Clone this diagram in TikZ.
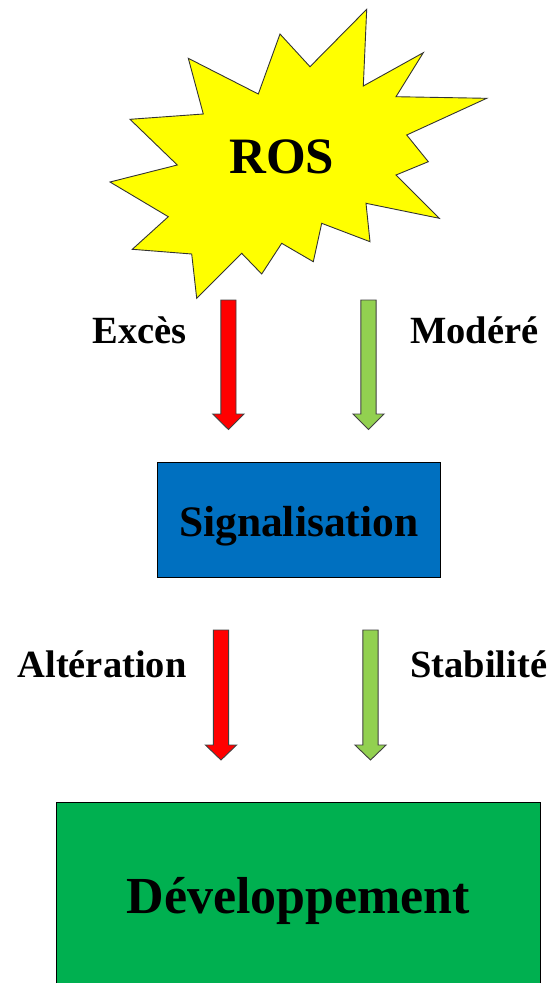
\documentclass[tikz,border=0pt]{standalone}
\usepackage{fontspec}
\setmainfont{Liberation Serif}
\definecolor{rosyellow}{RGB}{255,255,0}
\definecolor{arrred}{RGB}{255,0,0}
\definecolor{arrgreen}{RGB}{146,208,80}
\definecolor{sigblue}{RGB}{0,112,192}
\definecolor{devgreen}{RGB}{0,176,80}
\definecolor{edgegray}{RGB}{64,64,64}
\newcommand\blockdown[5]{%
  \draw[#1] (#2-7.6,#3) -- (#2+7.6,#3) -- (#2+7.6,#4) -- (#2+15.6,#4) -- (#2,#5)
    -- (#2-15.6,#4) -- (#2-7.6,#4) -- cycle;}
\tikzset{
  lbl/.style={font=\bfseries\fontsize{38.5}{40}\selectfont, inner sep=0pt},
  redarr/.style={fill=arrred, draw=edgegray, line width=0.9pt, line join=miter},
  greenarr/.style={fill=arrgreen, draw=edgegray, line width=0.9pt, line join=miter},
  boxnode/.style={draw=black, line width=1pt, inner sep=0pt, text depth=0pt},
}
\begin{document}
\begin{tikzpicture}[x=1pt, y=-1pt]
\useasboundingbox (0,0) rectangle (551,983);
% star
\draw[fill=rosyellow, draw=black!80, line width=0.9pt, line join=miter]
  (366.7,9.3) -- (363.3,86) -- (423.3,52.7) -- (396,96.7) -- (486.7,98.3)
  -- (406.7,135) -- (428.3,161.7) -- (396,175) -- (439.3,218.3) -- (366,203.3)
  -- (370,241.7) -- (321.7,223.3) -- (313.3,261.7) -- (281.7,243.3) -- (261.7,274)
  -- (241.7,253.3) -- (196.7,298.3) -- (191.7,254) -- (132.3,249.3) -- (168.3,216.7)
  -- (110,182) -- (177.3,165) -- (130,119.3) -- (203.3,114) -- (188.3,58.3)
  -- (258.3,94) -- (280,34) -- (310,66.7) -- cycle;
\node[font=\bfseries\fontsize{51}{53}\selectfont, inner sep=0pt, anchor=base] (ros) at (281.7,173.3) {ROS};
% upper arrows
\blockdown{redarr}{228.4}{300}{414}{429.5}
\blockdown{greenarr}{368.5}{300}{414}{429.5}
\node[lbl, anchor=base east] (exces) at (186.7,343.3) {Excès};
\node[lbl, anchor=base west] (modere) at (410,343.3) {Modéré};
% signalisation box
\node[boxnode, fill=sigblue, minimum width=282.7pt, minimum height=114.6pt,
  text height=33.4pt, font=\bfseries\fontsize{43.5}{45}\selectfont] (sig) at (298.7,520) {Signalisation};
% lower arrows
\blockdown{redarr}{221}{630}{745}{760}
\blockdown{greenarr}{370.5}{630}{745}{760}
\node[lbl, anchor=base east] (alter) at (186.7,677) {Altération};
\node[lbl, anchor=base west] (stab) at (410,677) {Stabilité};
% developpement box
\node[boxnode, fill=devgreen, minimum width=483.3pt, minimum height=187.3pt,
  text height=33.3pt, font=\bfseries\fontsize{52}{54}\selectfont] (dev) at (298.35,896.35) {Développement};
\end{tikzpicture}
\end{document}
